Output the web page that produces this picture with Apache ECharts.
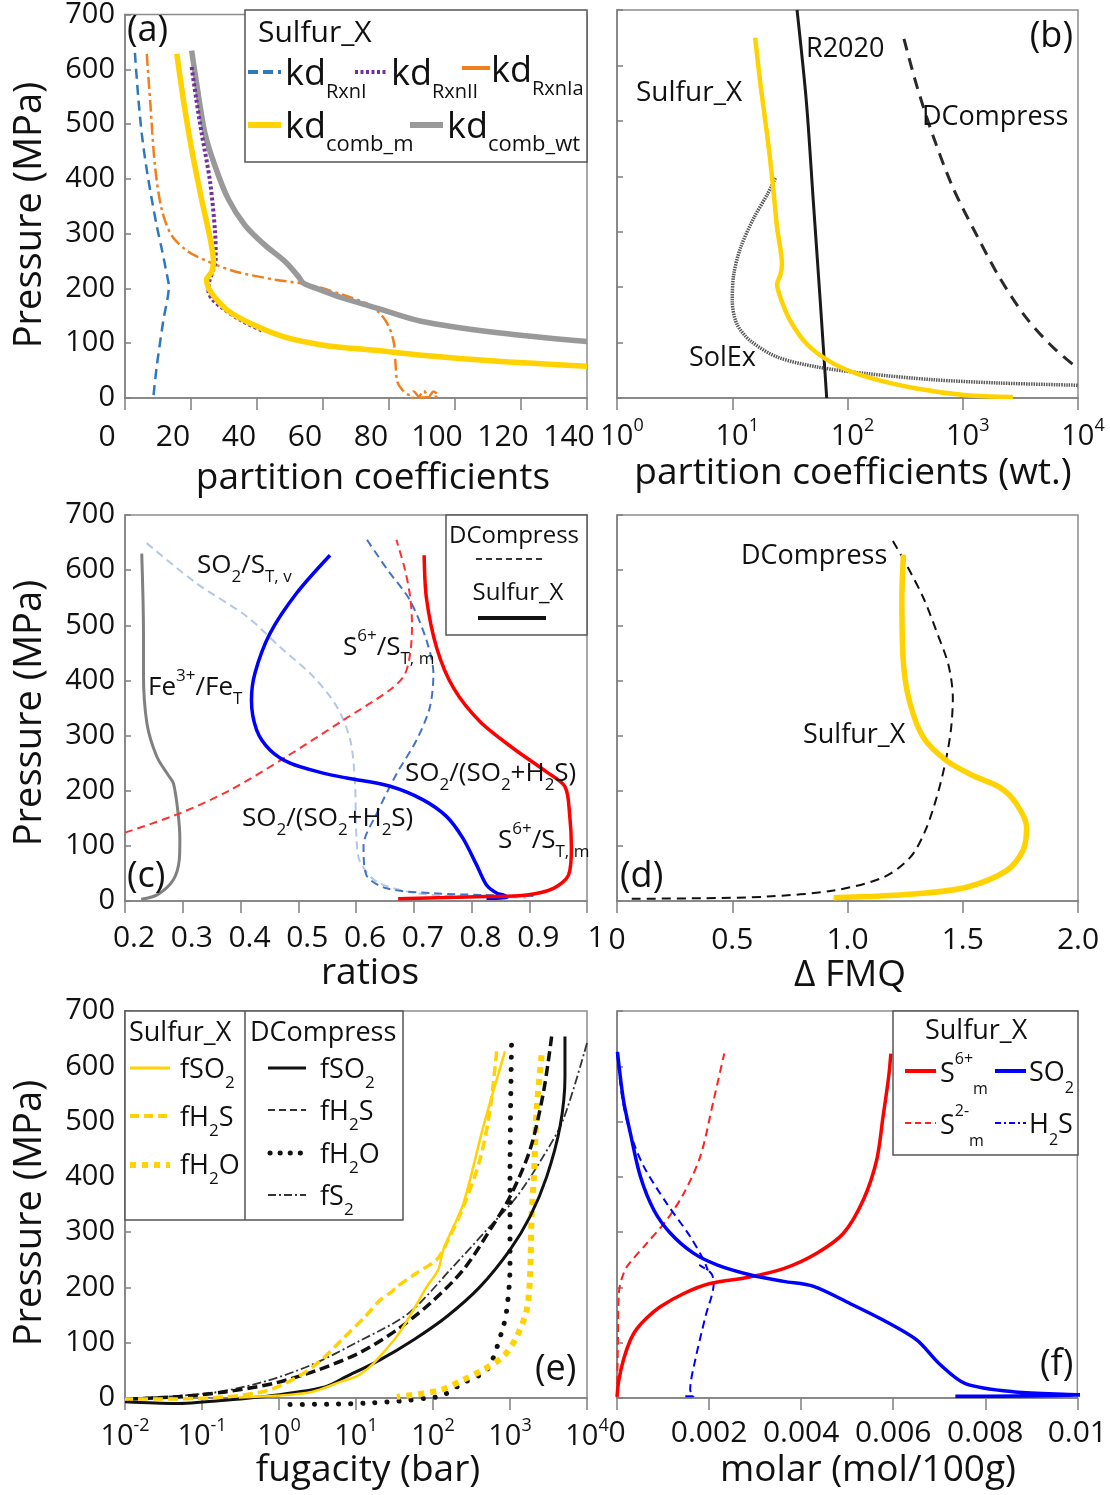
<!DOCTYPE html>
<html><head><meta charset="utf-8">
<script src="https://cdn.jsdelivr.net/npm/echarts/dist/echarts.min.js"></script>
<style>html,body{margin:0;padding:0;background:#fff}#c{width:1110px;height:1495px}</style>
</head><body><div id="c"></div><script>
// ---------- DATA: [value, pressure MPa] ----------
// (a) partition coefficients
const kdRxnI   = [[3.0,630],[4.0,550],[5.05,484],[6.5,420],[8.1,363],[9.6,315],[11.1,273],[13.1,213],[13.3,205],[11.6,141],[9.6,57],[8.6,2]];
const kdRxnII  = [[20.2,604],[21.6,545],[23.2,484],[25.8,394],[27.3,303],[27.5,255],[26.8,235],[25.5,212],[25.3,195],[26.5,180],[29.3,165],[35.4,141],[42,122]];
const kdRxnIa  = [[6.6,628],[7.6,544],[9.1,423],[11.1,345],[14.1,297],[19.2,267],[25.3,249],[33.3,231],[45.5,216],[55.6,207],[65.7,189],[73.7,171],[77.5,153],[80,130],[81.5,100],[82,60],[82.5,30],[84,15],[86,6],[87.5,12],[89,3],[90.5,13],[92,2],[93.5,12],[95,4],[90,1],[86,0]];
const kdCombM  = [[15.7,628],[17.7,544],[20.2,454],[23.2,363],[25.8,291],[26.8,249],[26.3,231],[24.7,216],[25.3,201],[27.3,183],[31.3,159],[38.4,135],[48.5,111],[60.6,96],[75.8,87],[90,78],[113,67],[140,58]];
const kdCombWt = [[20.2,634],[21.7,574],[24.2,484],[27.3,423],[31.3,363],[36.4,315],[42.4,279],[48.5,249],[52.5,222],[54,210],[57.6,201],[65.7,183],[75.8,165],[89.7,140],[113,119],[140,103]];
// (b) partition coefficients (wt.)
const kdSulfurX = [[15.8,650],[17.6,564],[20.1,474],[22.2,397],[24.5,307],[27.0,241],[26.2,223],[24.5,205],[26.2,181],[31.9,139],[44.5,97],[75.7,62],[147,38],[398,17],[1072,5],[2723,2]];
const kdSolEx   = [[23.7,397],[20.1,367],[15.4,325],[11.8,271],[10.3,223],[10.0,175],[11.0,133],[14.4,103],[24.5,74],[54.3,56],[147,44],[550,33],[2089,27],[10000,23]];
const kdR2020   = [[36.5,700],[44,534],[50.5,355],[58,175],[66,0]];
const kdDComp   = [[309,648],[398,564],[550,474],[824,379],[1312,295],[2089,217],[3548,145],[6026,92],[10000,53]];
// (c) ratios
const feRatio    = [[0.229,630],[0.232,486],[0.232,413],[0.238,322],[0.255,262],[0.275,228],[0.284,213],[0.292,159],[0.295,111],[0.294,75],[0.284,39],[0.257,12],[0.228,3]];
const so2StvDC   = [[0.2375,649],[0.324,576],[0.411,516],[0.468,461],[0.526,407],[0.567,352],[0.59,292],[0.598,219],[0.601,111],[0.607,71],[0.636,35],[0.705,14],[0.792,8],[0.895,6]];
const so2RatioDC = [[0.619,655],[0.655,600],[0.693,546],[0.722,473],[0.734,413],[0.728,352],[0.705,292],[0.671,232],[0.636,159],[0.613,100],[0.618,47],[0.653,23],[0.734,14],[0.82,11],[0.913,9]];
const s6RatioDC  = [[0.2,124],[0.295,159],[0.382,201],[0.48,262],[0.578,328],[0.659,383],[0.684,410],[0.694,450],[0.697,500],[0.694,550],[0.685,600],[0.67,655]];
const so2RatioSX = [[0.555,627],[0.497,558],[0.451,485],[0.425,413],[0.419,364],[0.428,310],[0.451,274],[0.486,250],[0.543,232],[0.584,223],[0.659,208],[0.717,183],[0.757,153],[0.785,114],[0.809,65],[0.826,29],[0.844,14],[0.855,11],[0.862,6],[0.826,5]];
const s6RatioSX  = [[0.718,627],[0.722,549],[0.74,458],[0.769,386],[0.815,325],[0.872,277],[0.93,234],[0.962,207],[0.97,156],[0.973,96],[0.968,47],[0.942,23],[0.896,11],[0.826,8],[0.673,4]];
// (d) delta FMQ
const fmqDC = [[1.197,653],[1.257,609],[1.33,549],[1.387,488],[1.438,428],[1.457,368],[1.448,308],[1.423,248],[1.387,188],[1.337,127],[1.272,79],[1.156,43],[0.94,19],[0.652,8],[0.363,5],[0.06,4]];
const fmqSX = [[1.243,628],[1.236,549],[1.243,429],[1.272,357],[1.33,296],[1.431,254],[1.546,227],[1.661,206],[1.733,176],[1.777,134],[1.762,92],[1.69,55],[1.517,25],[1.3,13],[1.084,8],[0.94,6]];
// (e) fugacity (bar)
const fSO2SX = [[861,627],[450,491],[248,352],[136,268],[117,232],[82.8,201],[55.6,159],[33.7,111],[18.6,69],[14.5,54],[10.2,39],[6.5,30],[2.65,11],[0.89,4],[0.3,1]];
const fH2SSX = [[671,627],[550,521],[407,431],[248,346],[150,280],[111,250],[61.2,226],[33.7,201],[29.0,192],[20.5,177],[13.1,147],[6.5,105],[3.58,69],[1.78,39],[0.726,14],[0.2,2],[0.027,-2],[0.01,-2]];
const fH2OSX = [[2570,620],[2218,521],[2042,400],[1905,328],[1820,219],[1648,159],[1222,111],[818,75],[447,51],[248,33],[123,14],[33.9,2]];
const fSO2DC = [[5176,654],[5176,581],[4467,491],[2992,400],[1820,328],[1000,268],[407,201],[150,147],[55.6,105],[20.5,69],[7.57,39],[3.95,20],[0.887,5],[0.2,-4],[0.0447,-10],[0.01,-7]];
const fH2SDC = [[3475,654],[2704,551],[1820,449],[1000,364],[550,304],[248,232],[91.4,171],[33.7,123],[11.2,82],[3.24,51],[0.887,27],[0.2,11],[0.0447,2],[0.01,-2]];
const fH2ODC = [[1047,638],[1000,400],[1000,237],[906,159],[776,118],[500,51],[245,27],[130,4],[83,0],[50,-4],[15,-9],[5,-11],[1.1,-12]];
const fS2DC  = [[10000,642],[4898,503],[2704,437],[1222,364],[498,304],[178,236],[47.9,153],[10.7,102],[2.65,60],[0.658,30],[0.163,11],[0.0404,3],[0.01,-1]];
// (f) molar (mol/100g)
const s6Molar  = [[0,2],[0.00004,32],[0.00014,69],[0.00029,105],[0.00043,125],[0.00065,145],[0.00094,165],[0.00145,189],[0.00202,207],[0.00289,219],[0.00362,234],[0.00434,262],[0.00492,298],[0.00535,358],[0.00564,430],[0.00578,509],[0.0059,580],[0.00595,623]];
const s2Molar  = [[0,2],[0.00002,100],[0.00004,190],[0.0001,215],[0.00022,238],[0.00065,280],[0.00108,322],[0.00145,370],[0.00181,437],[0.0021,539],[0.00233,623]];
const so2Molar = [[0.00001,626],[0.00014,539],[0.00029,479],[0.00051,400],[0.0008,340],[0.00116,298],[0.00166,262],[0.00217,241],[0.00289,223],[0.00362,211],[0.00427,202],[0.00506,171],[0.00578,141],[0.00651,105],[0.007,62],[0.00757,26],[0.00865,11],[0.01,6],[0.0102,4.5],[0.00735,3]];
const h2sMolar = [[0,626],[0.00012,540],[0.00029,479],[0.00058,419],[0.00108,352],[0.00159,292],[0.00188,250],[0.00197,232],[0.0018,240],[0.00205,225],[0.0021,207],[0.00192,147],[0.0017,69],[0.00159,15],[0.00166,3],[0.00141,3]];

// tick settings
const pTicks = {min:0, max:700, interval:100};
const xRanges = [
  {type:'value', min:0, max:140, interval:20},
  {type:'log', min:1, max:10000, splitNumber:4},
  {type:'value', min:0.2, max:1, interval:0.1},
  {type:'value', min:0, max:2, interval:0.5},
  {type:'log', min:0.01, max:10000, splitNumber:6},
  {type:'value', min:0, max:0.01, interval:0.002}
];

// ---------- LAYOUT ----------
const FONT = 'Open Sans';
const AX = '#7f7f7f';
const grids = [
  {left:125, top:10, width:462, height:388},
  {left:617, top:10, width:461, height:388},
  {left:125, top:515, width:462, height:386},
  {left:617, top:515, width:461, height:386},
  {left:125, top:1011, width:462, height:387},
  {left:617, top:1011, width:461, height:387}
].map(g => Object.assign({show:true, borderColor:'#8c8c8c', borderWidth:1.5, containLabel:false}, g));

const logFmt = v => { const e = Math.round(Math.log10(v)); return '{b|10}{p|' + e + '}'; };
const logRich = {b:{fontSize:29, lineHeight:40, verticalAlign:'middle', fontFamily:FONT, color:'#111'},
                 p:{fontSize:18, lineHeight:18, verticalAlign:'top', fontFamily:FONT, color:'#111'}};
const xLabelCfg = [
  {margin:24, padding:[0,36,0,0]},
  {margin:19, formatter:logFmt, rich:logRich, padding:[0,0,0,10]},
  {margin:22, padding:[0,0,0,18], formatter: v => (Math.abs(v-1)<1e-9 ? '1' : (+v.toFixed(1)).toString())},
  {margin:24, formatter: v => (v===0 ? '0' : v.toFixed(1))},
  {margin:19, formatter:logFmt, rich:logRich},
  {margin:20, formatter: v => (v===0 ? '0' : (+v.toFixed(3)).toString())}
];
const xAxis = xRanges.map((r, i) => Object.assign({
  gridIndex:i,
  axisLine:{show:true, onZero:false, lineStyle:{color:AX, width:1.5}},
  axisTick:{show:true, inside:false, length:12, lineStyle:{color:AX, width:1.5}},
  splitLine:{show:false}, minorTick:{show:false},
  axisLabel:Object.assign({color:'#111', fontSize:30, fontFamily:FONT, showMinLabel:true, showMaxLabel:true, hideOverlap:false}, xLabelCfg[i])
}, r));
const yAxis = [0,1,2,3,4,5].map(i => Object.assign({
  gridIndex:i, type:'value',
  axisLine:{show:true, onZero:false, lineStyle:{color:AX, width:1.5}},
  axisTick:{show:true, inside:true, length:6, lineStyle:{color:AX, width:1.5}},
  splitLine:{show:false},
  axisLabel:{show: i%2===0, color:'#111', fontSize:29, fontFamily:FONT, margin:10}
}, pTicks));

function S(gi, data, color, width, type, extra) {
  return Object.assign({type:'line', xAxisIndex:gi, yAxisIndex:gi, data:data, showSymbol:false, symbol:'none',
    smooth:0.3, animation:false, silent:true,
    lineStyle:{color:color, width:width, type:type || 'solid', cap:'butt', join:'round'}}, extra || {});
}
const series = [
  // (a)
  S(0, kdRxnI, '#2e78bd', 2.5, [10,6]),
  S(0, kdRxnIa, '#f07f1e', 2.5, [12,4,3,4]),
  S(0, kdCombWt, '#999999', 5.5),
  S(0, kdRxnII, '#7030a0', 4, [3,2.5]),
  S(0, kdCombM, '#ffd200', 5.5),
  // (b)
  S(1, kdSolEx, '#5a5a5a', 3.5, [1.5,1]),
  S(1, kdR2020, '#1a1a1a', 3),
  S(1, kdDComp, '#2a2a2a', 3, [12,8]),
  S(1, kdSulfurX, '#ffd200', 4.5),
  // (c)
  S(2, feRatio, '#808080', 3),
  S(2, so2StvDC, '#b4c7e7', 2, [8,5]),
  S(2, so2RatioDC, '#4472c4', 2, [8,5]),
  S(2, s6RatioDC, '#ff3030', 2, [8,5]),
  S(2, so2RatioSX, '#0000ff', 3.5),
  S(2, s6RatioSX, '#ff0000', 3.5),
  // (d)
  S(3, fmqDC, '#111111', 2, [9,6]),
  S(3, fmqSX, '#ffd200', 5.5),
  // (e)
  S(4, fS2DC, '#333333', 1.8, [9,3,2,3], {clip:false}),
  S(4, fH2ODC, '#111111', 5, [0.1,12], {clip:false, lineStyle:{color:'#111', width:5, type:[0.1,12], cap:'round'}}),
  S(4, fH2OSX, '#ffd200', 6, [6,6], {clip:false}),
  S(4, fSO2DC, '#111111', 3, 'solid', {clip:false}),
  S(4, fH2SDC, '#111111', 3.5, [10,5], {clip:false}),
  S(4, fH2SSX, '#ffd200', 3.5, [10,5], {clip:false}),
  S(4, fSO2SX, '#ffd200', 2.5, 'solid', {clip:false}),
  // (f)
  S(5, s2Molar, '#ff2020', 2, [8,5]),
  S(5, h2sMolar, '#0000ff', 2, [8,5]),
  S(5, s6Molar, '#ff0000', 3.5),
  S(5, so2Molar, '#0000ff', 3.5)
];

// ---------- GRAPHIC (titles, labels, legends) ----------
const G = [];
function T(x, y, text, size, o) {
  o = o || {};
  const st = {text:text, fontSize:size, fontFamily:FONT, fill:o.color || '#111', align:o.align || 'left', verticalAlign:'middle'};
  if (o.rich) st.rich = o.rich;
  const el = {type:'text', x:x, y:y, z:100, style:st};
  if (o.rot) el.rotation = o.rot;
  G.push(el);
}
function L(x1, y1, x2, y2, color, w, dash, cap) {
  G.push({type:'line', z:100, shape:{x1:x1, y1:y1, x2:x2, y2:y2}, style:{stroke:color, lineWidth:w, lineDash:dash || null, lineCap:cap || 'butt'}});
}
function B(x, y, w, h) {
  G.push({type:'rect', z:99, shape:{x:x, y:y, width:w, height:h}, style:{fill:'#fff', stroke:'#555', lineWidth:1.5}});
}
function rich(size, color, subSize, lh) {
  return {
    b:{fontSize:size, lineHeight:lh, verticalAlign:'middle', fontFamily:FONT, color:color},
    s:{fontSize:subSize, lineHeight:subSize, verticalAlign:'bottom', fontFamily:FONT, color:color},
    p:{fontSize:subSize, lineHeight:subSize, verticalAlign:'top', fontFamily:FONT, color:color}
  };
}
// axis titles
T(30, 215, 'Pressure (MPa)', 38, {align:'center', rot:Math.PI/2});
T(30, 713, 'Pressure (MPa)', 38, {align:'center', rot:Math.PI/2});
T(30, 1213, 'Pressure (MPa)', 38, {align:'center', rot:Math.PI/2});
T(373, 478, 'partition coefficients', 37, {align:'center'});
T(853, 473, 'partition coefficients (wt.)', 37, {align:'center'});
T(370, 973, 'ratios', 37, {align:'center'});
T(850, 975, 'Δ FMQ', 37, {align:'center'});
T(368, 1470, 'fugacity (bar)', 37, {align:'center'});
T(868, 1470, 'molar (mol/100g)', 37, {align:'center'});
// panel letters
T(127, 31, '(a)', 36); T(1073, 37, '(b)', 36, {align:'right'});
T(127, 877, '(c)', 36); T(620, 877, '(d)', 36);
T(535, 1370, '(e)', 36); T(1040, 1365, '(f)', 36);

// legend (a)
B(245, 10, 342, 152);
T(258, 33, 'Sulfur_X', 30);
const kdR = rich(36, '#111', 20, 54);
L(248, 72, 281, 72, '#2e78bd', 4, [10,5]);
T(285, 75, '{b|kd}{s|RxnI}', 36, {rich:kdR});
L(355, 72, 388, 72, '#7030a0', 4, [3,2.5]);
T(391, 75, '{b|kd}{s|RxnII}', 36, {rich:kdR});
L(462, 68, 490, 68, '#f07f1e', 4);
T(491, 72, '{b|kd}{s|RxnIa}', 36, {rich:kdR});
L(248, 125, 281, 125, '#ffd200', 6);
T(285, 128, '{b|kd}{s|comb_m}', 36, {rich:rich(36, '#111', 22, 56)});
L(410, 125, 443, 125, '#999999', 6);
T(447, 128, '{b|kd}{s|comb_wt}', 36, {rich:rich(36, '#111', 22, 56)});

// (b) annotations
T(636, 93, 'Sulfur_X', 28); T(806, 49, 'R2020', 27); T(922, 117, 'DCompress', 27); T(689, 358, 'SolEx', 27);

// (c) annotations + legend
const cR = (col) => rich(26, col, 17, 40);
T(197, 566, '{b|SO}{s|2}{b|/S}{s|T, v}', 26, {rich:cR('#b4c7e7')});
T(148, 688, '{b|Fe}{p|3+}{b|/Fe}{s|T}', 26, {rich:cR('#8c8c8c')});
T(343, 648, '{b|S}{p|6+}{b|/S}{s|T, m}', 26, {rich:cR('#ff2020')});
T(405, 774, '{b|SO}{s|2}{b|/(SO}{s|2}{b|+H}{s|2}{b|S)}', 26, {rich:cR('#4472c4')});
T(242, 819, '{b|SO}{s|2}{b|/(SO}{s|2}{b|+H}{s|2}{b|S)}', 26, {rich:cR('#0000ff')});
T(498, 841, '{b|S}{p|6+}{b|/S}{s|T, m}', 26, {rich:cR('#ff0000')});
B(446, 515, 141, 120);
T(514, 536, 'DCompress', 24, {align:'center'});
L(476, 559, 546, 559, '#333', 2, [6,4]);
T(518, 593, 'Sulfur_X', 24, {align:'center'});
L(478, 618, 546, 618, '#111', 4);

// (d) annotations
T(741, 556, 'DCompress', 27); T(803, 735, 'Sulfur_X', 27);

// (e) legend
B(125, 1011, 278, 209);
L(245, 1011, 245, 1220, '#555', 1.5);
T(129, 1033, 'Sulfur_X', 27); T(250, 1033, 'DCompress', 27);
const eR = rich(27, '#111', 17, 44);
L(130, 1068, 170, 1068, '#ffd200', 3);
T(180, 1070, '{b|fSO}{s|2}', 27, {rich:eR});
L(130, 1116, 170, 1116, '#ffd200', 4, [9,5]);
T(180, 1118, '{b|fH}{s|2}{b|S}', 27, {rich:eR});
L(130, 1165, 170, 1165, '#ffd200', 6, [6,6]);
T(180, 1166, '{b|fH}{s|2}{b|O}', 27, {rich:eR});
L(268, 1068, 306, 1068, '#111', 3);
T(320, 1070, '{b|fSO}{s|2}', 27, {rich:eR});
L(268, 1110, 306, 1110, '#333', 2, [7,4]);
T(320, 1112, '{b|fH}{s|2}{b|S}', 27, {rich:eR});
L(270, 1153, 306, 1153, '#111', 5, [0.1,10], 'round');
T(320, 1155, '{b|fH}{s|2}{b|O}', 27, {rich:eR});
L(268, 1195, 306, 1195, '#333', 2, [8,3,2,3]);
T(320, 1197, '{b|fS}{s|2}', 27, {rich:eR});

// (f) legend
B(893, 1011, 185, 144);
T(925, 1031, 'Sulfur_X', 27);
const fR = rich(27, '#111', 16, 46);
L(905, 1071, 936, 1071, '#ff0000', 4);
T(940, 1074, '{b|S}{p|6+}{s|m}', 27, {rich:fR});
L(995, 1071, 1026, 1071, '#0000ff', 4);
T(1029, 1073, '{b|SO}{s|2}', 27, {rich:fR});
L(905, 1123, 936, 1123, '#ff2020', 2, [6,4]);
T(940, 1126, '{b|S}{p|2-}{s|m}', 27, {rich:fR});
L(995, 1123, 1026, 1123, '#0000ff', 2, [6,3,2,3]);
T(1029, 1125, '{b|H}{s|2}{b|S}', 27, {rich:fR});

const chart = echarts.init(document.getElementById('c'), null, {renderer:'canvas'});
chart.setOption({
  animation:false, backgroundColor:'#ffffff',
  grid:grids, xAxis:xAxis, yAxis:yAxis, series:series,
  graphic:{elements:G}
});
</script></body></html>
